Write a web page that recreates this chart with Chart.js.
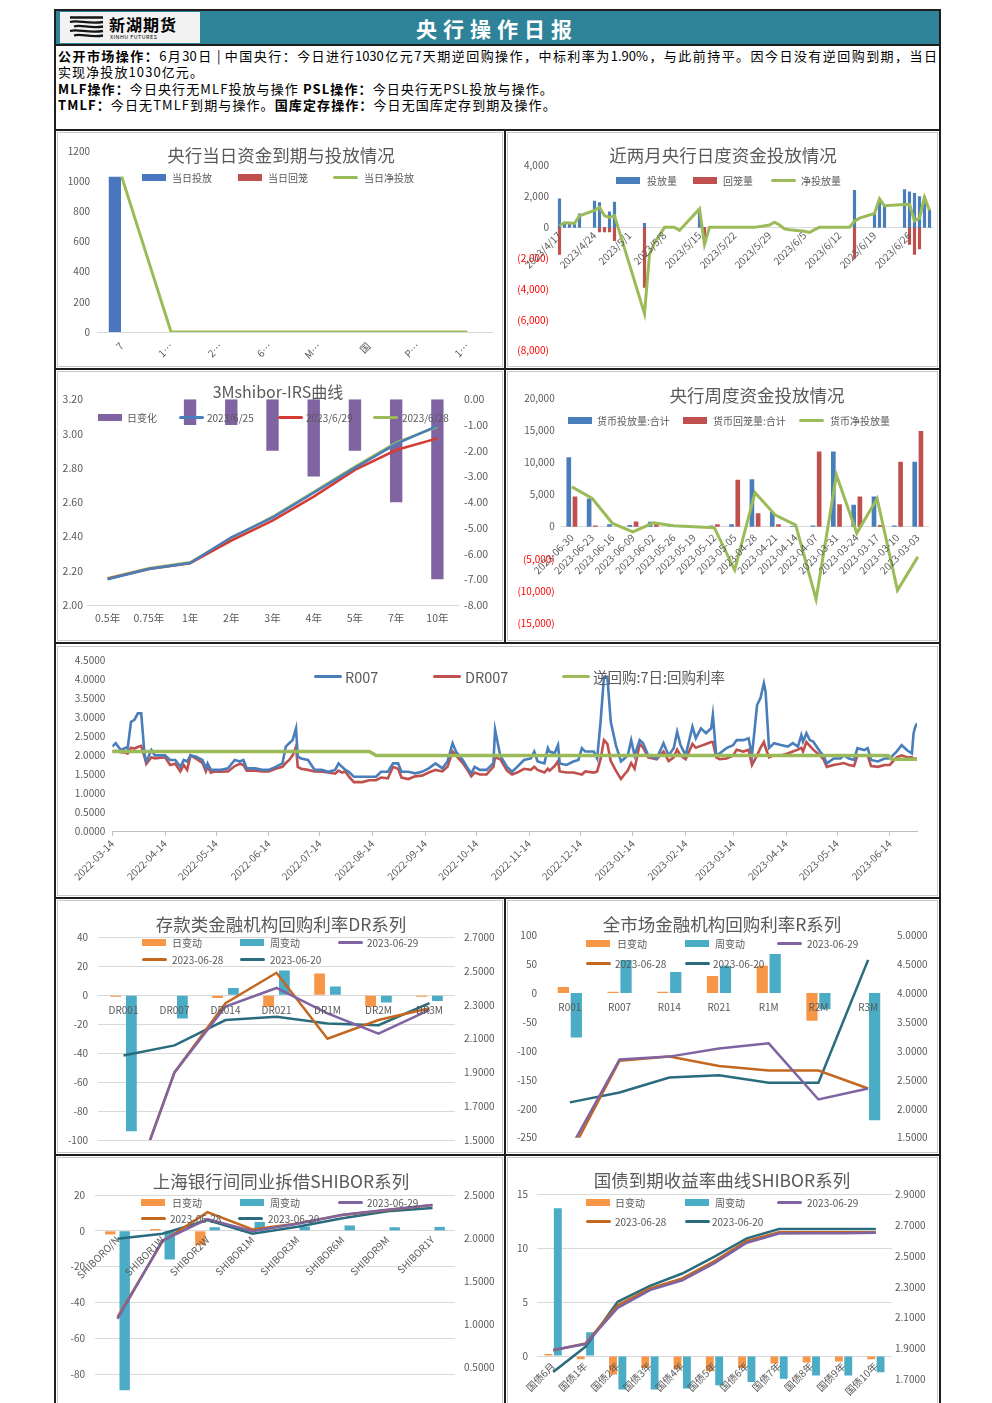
<!DOCTYPE html>
<html lang="zh-CN">
<head>
<meta charset="utf-8">
<title>央行操作日报</title>
<script src="https://cdn.jsdelivr.net/npm/chart.js@4.4.0/dist/chart.umd.min.js"></script>
<style>
  html, body { margin: 0; padding: 0; background: #fff; }
  body { width: 992px; height: 1403px; overflow: hidden; position: relative;
         font-family: "Noto Sans CJK SC", "Noto Sans", sans-serif; color: #000; }
  .abs { position: absolute; }
  .vline { position: absolute; width: 2px; background: #1e1e1e; }
  .hline { position: absolute; height: 2px; background: #1e1e1e; }
  .panel { position: absolute; border: 1px solid #c9c9c9; box-sizing: border-box; }
  canvas { position: absolute; }
  .title { position: absolute; transform: translate(-50%, -50%); white-space: nowrap; color: #595959; font-size: 17.5px; }
  .lg-text { position: absolute; white-space: nowrap; color: #595959; font-size: 10px; line-height: 12px; }
  .lg-sw { position: absolute; }
  #info { left: 58px; top: 48px; width: 879px; font-size: 13px; line-height: 16.4px; letter-spacing: 1.1px; }
  #info .justify { text-align: justify; text-align-last: justify; letter-spacing: 0; }
</style>
</head>
<body>

<!-- 表头 -->
<div class="abs" style="left:55px;top:10px;width:885px;height:35px;background:#2F8398;"></div>
<div class="abs" style="left:60px;top:12px;width:140px;height:31px;background:#f2f2f2;"></div>
<svg class="abs" style="left:69px;top:15px" width="36" height="25" viewBox="0 0 36 25">
  <g fill="none" stroke="#151515" stroke-width="2.3">
    <path d="M1 2.5 H34"/>
    <path d="M1 7 C9 4.5, 19 9.5, 34 7"/>
    <path d="M5 11.5 C12 9, 21 14, 34 11.5"/>
    <path d="M1 16 C9 13.5, 19 18.5, 34 16"/>
    <path d="M5 20.5 C12 18, 21 23, 34 20.5"/>
  </g>
</svg>
<div class="abs" style="left:109px;top:14px;font-size:16px;font-weight:700;letter-spacing:1px;line-height:20px;">新湖期货</div>
<div class="abs" style="left:110px;top:34px;font-size:6px;line-height:7px;letter-spacing:0.5px;transform:scale(0.9);transform-origin:left top;">XINHU FUTURES</div>
<div class="abs" style="left:497px;top:28px;transform:translate(-50%,-50%);color:#fff;font-size:21px;font-weight:700;letter-spacing:6px;white-space:nowrap;">央行操作日报</div>

<div id="info" class="abs">
  <div class="justify"><b>公开市场操作：</b>6月30日 | 中国央行：今日进行1030亿元7天期逆回购操作，中标利率为1.90%，与此前持平。因今日没有逆回购到期，当日</div>
  <div>实现净投放1030亿元。</div>
  <div><b>MLF操作：</b>今日央行无MLF投放与操作 <b>PSL操作：</b>今日央行无PSL投放与操作。</div>
  <div><b>TMLF：</b>今日无TMLF到期与操作。<b>国库定存操作：</b>今日无国库定存到期及操作。</div>
</div>

<!-- 框线 -->
<div class="vline" style="left:54px;top:9px;height:1394px;"></div>
<div class="vline" style="left:939px;top:9px;height:1394px;"></div>
<div class="hline" style="left:54px;top:9px;width:887px;"></div>
<div class="hline" style="left:54px;top:44px;width:887px;"></div>
<div class="hline" style="left:54px;top:129px;width:887px;"></div>
<div class="hline" style="left:54px;top:368px;width:887px;"></div>
<div class="hline" style="left:54px;top:642px;width:887px;"></div>
<div class="hline" style="left:54px;top:897px;width:887px;"></div>
<div class="hline" style="left:54px;top:1154px;width:887px;"></div>
<div class="vline" style="left:504px;top:129px;height:514px;"></div>
<div class="vline" style="left:504px;top:897px;height:510px;"></div>

<div class="panel" style="left:57px;top:132px;width:446px;height:235px;"></div>
<div class="panel" style="left:507px;top:132px;width:431px;height:235px;"></div>
<div class="panel" style="left:57px;top:371px;width:446px;height:270px;"></div>
<div class="panel" style="left:507px;top:371px;width:431px;height:270px;"></div>
<div class="panel" style="left:57px;top:646px;width:881px;height:250px;"></div>
<div class="panel" style="left:57px;top:900px;width:446px;height:253px;"></div>
<div class="panel" style="left:507px;top:900px;width:431px;height:253px;"></div>
<div class="panel" style="left:57px;top:1157px;width:446px;height:260px;"></div>
<div class="panel" style="left:507px;top:1157px;width:431px;height:260px;"></div>

<canvas id="c1"></canvas>
<canvas id="c2"></canvas>
<canvas id="c3"></canvas>
<canvas id="c4"></canvas>
<canvas id="c5"></canvas>
<canvas id="c6"></canvas>
<canvas id="c7"></canvas>
<canvas id="c8"></canvas>
<canvas id="c9"></canvas>

<script>
// ===== 数据 =====

// 央行当日资金到期与投放情况（亿元）
const dayCats = ['7', '1…', '2…', '6…', 'M…', '国', 'P…', '1…'];
const dayInject = [1030, 0, 0, 0, 0, 0, 0, 0];
const dayWithdraw = [0, 0, 0, 0, 0, 0, 0, 0];
const dayNet = [1030, 0, 0, 0, 0, 0, 0, 0];

// 近两月央行日度资金投放情况（横轴：距2023/4/17的天数）
const dailyTickDays = [0, 7, 14, 21, 28, 35, 42, 49, 56, 63, 70];
const dailyTickLabels = ['2023/4/17', '2023/4/24', '2023/5/1', '2023/5/8', '2023/5/15', '2023/5/22',
  '2023/5/29', '2023/6/5', '2023/6/12', '2023/6/19', '2023/6/26'];
const injectDays = [0, 1, 2, 3, 4, 7, 8, 10, 11, 17, 28, 59, 63, 64, 65, 69, 70, 71, 72, 73, 74];
const injectVals = [1850, 300, 280, 250, 870, 1700, 1600, 1000, 1640, 260, 1200, 2400, 900, 1850, 1400,
  2450, 2300, 2200, 2000, 2000, 1100];
const withdrawDays = [0, 8, 9, 10, 11, 17, 29, 59, 70, 71, 72];
const withdrawVals = [-1750, -300, -300, -300, -870, -3900, -1100, -2000, -1100, -1750, -1400];
const netDays = [0, 1, 2, 3, 4, 7, 8, 9, 10, 11, 17, 18, 19, 21, 22, 23, 24, 25, 28, 29, 30, 31, 32, 35, 36,
  37, 38, 39, 42, 43, 44, 45, 46, 49, 50, 51, 52, 53, 56, 57, 58, 59, 60, 63, 64, 65, 69, 70, 71, 72, 73, 74];
const netVals = [100, 300, 280, 250, 750, 1100, 1300, 760, 650, 760, -5600, -1750, -1000, 0, 0, 0, -200, 150,
  1200, -1100, 0, 0, 0, 0, 0, 0, 0, 0, 150, 330, 150, -100, -150, -250, -330, -150, 0, 0, 0, 0, 0, 400, 600,
  900, 1850, 1400, 1480, 1500, 430, 600, 1950, 1100];

// 3Mshibor-IRS曲线
const irsTenors = ['0.5年', '0.75年', '1年', '2年', '3年', '4年', '5年', '7年', '10年'];
const irsChange = [0, 0, -1, -1, -2, -3, -2, -4, -7];
const irs0625 = [2.150, 2.210, 2.245, 2.395, 2.510, 2.655, 2.800, 2.940, 3.045];
const irs0629 = [2.153, 2.210, 2.243, 2.375, 2.492, 2.632, 2.788, 2.904, 2.972];
const irs0628 = [2.156, 2.214, 2.249, 2.389, 2.515, 2.661, 2.807, 2.947, 3.040];

// 央行周度资金投放情况（亿元）
const weekCats = ['2023-06-30', '2023-06-23', '2023-06-16', '2023-06-09', '2023-06-02', '2023-05-26',
  '2023-05-19', '2023-05-12', '2023-05-05', '2023-04-28', '2023-04-21', '2023-04-14', '2023-04-07',
  '2023-03-31', '2023-03-24', '2023-03-17', '2023-03-10', '2023-03-03'];
const weekInject = [10800, 4400, 400, 250, 780, 100, 100, 200, 400, 7400, 2300, 100, 200, 11700, 3400, 4700, 200, 10100];
const weekWithdraw = [4700, 200, 0, 800, 400, 0, 0, 400, 7300, 2100, 400, 0, 11700, 3500, 4700, 250, 10100, 14900];
const weekNet = [6200, 4400, 500, -800, 600, 150, 0, -150, -6750, 5300, 1800, 250, -11300, 8050, -1000, 4400, -9900, -4700];

// R007 / DR007 / 逆回购7日利率（横轴：距2022-03-14的天数）
const monthTickDays = [0, 31, 61, 92, 122, 153, 184, 214, 245, 275, 306, 337, 365, 396, 426, 457];
const monthTickLabels = ['2022-03-14', '2022-04-14', '2022-05-14', '2022-06-14', '2022-07-14', '2022-08-14',
  '2022-09-14', '2022-10-14', '2022-11-14', '2022-12-14', '2023-01-14', '2023-02-14', '2023-03-14',
  '2023-04-14', '2023-05-14', '2023-06-14'];
const repoDays = [0, 2, 5, 8, 9, 11, 13, 15, 17, 19, 20, 23, 25, 31, 34, 37, 40, 42, 44, 46, 49, 53, 55, 56, 58,
  60, 64, 68, 72, 75, 77, 79, 84, 88, 92, 96, 100, 102, 104, 106, 108, 109, 111, 115, 119, 123, 127, 131, 133,
  135, 137, 139, 142, 147, 151, 155, 158, 162, 165, 168, 170, 174, 178, 182, 186, 190, 194, 197, 200, 202, 206,
  209, 211, 213, 216, 220, 223, 224, 225, 228, 232, 235, 238, 242, 246, 248, 250, 254, 256, 257, 260, 262, 263,
  267, 271, 274, 276, 278, 283, 285, 287, 289, 291, 293, 296, 299, 301, 303, 305, 307, 310, 312, 315, 320, 324,
  327, 330, 332, 334, 337, 341, 343, 346, 349, 352, 353, 355, 357, 361, 365, 367, 371, 374, 376, 379, 381, 383,
  384, 386, 389, 393, 397, 400, 403, 405, 406, 408, 410, 412, 416, 418, 420, 424, 428, 430, 433, 436, 438, 442,
  444, 446, 450, 454, 457, 461, 464, 467, 470, 471, 472, 473];
const r007 = [2.23, 2.32, 2.14, 2.20, 2.18, 2.88, 2.93, 3.10, 3.10, 2.00, 1.84, 2.14, 2.00, 2.00, 1.88, 1.88,
  1.70, 1.88, 1.84, 2.00, 1.97, 1.88, 1.66, 1.79, 1.62, 1.62, 1.62, 1.66, 1.88, 1.84, 1.88, 1.66, 1.66, 1.62,
  1.62, 1.70, 1.79, 2.23, 2.32, 2.40, 2.71, 1.97, 1.92, 1.88, 1.62, 1.62, 1.57, 1.62, 1.79, 1.70, 1.62, 1.57,
  1.44, 1.44, 1.44, 1.44, 1.57, 1.57, 1.79, 1.79, 1.57, 1.57, 1.53, 1.57, 1.66, 1.79, 1.66, 1.84, 2.32, 2.10,
  1.88, 1.66, 1.53, 1.70, 1.62, 1.62, 1.75, 1.80, 2.67, 2.00, 1.70, 1.57, 1.70, 1.88, 1.92, 2.10, 1.84, 1.79,
  2.19, 2.10, 2.06, 2.27, 1.79, 1.75, 1.84, 1.88, 2.19, 2.10, 2.10, 1.92, 2.88, 4.06, 4.06, 2.88, 2.27, 1.84,
  1.92, 2.00, 2.40, 2.00, 2.40, 2.32, 2.00, 1.92, 2.32, 2.00, 2.19, 2.62, 2.27, 2.00, 2.75, 2.45, 2.71, 2.58,
  2.71, 3.06, 2.00, 2.05, 2.19, 2.27, 2.40, 2.40, 2.45, 2.00, 3.32, 3.50, 3.89, 3.67, 2.19, 2.32, 2.27, 2.23,
  2.32, 2.23, 2.53, 2.36, 2.58, 2.40, 2.36, 2.10, 2.00, 1.79, 1.92, 1.92, 2.00, 1.92, 1.88, 2.19, 2.14, 2.19,
  1.88, 1.84, 1.92, 1.92, 2.10, 2.27, 2.14, 2.05, 2.58, 2.75, 2.84];
const dr007 = [2.10, 2.12, 2.08, 2.07, 2.05, 2.20, 2.18, 2.22, 2.25, 1.95, 1.78, 1.95, 1.92, 1.95, 1.75, 1.78,
  1.58, 1.75, 1.62, 2.00, 1.92, 1.80, 1.58, 1.70, 1.55, 1.58, 1.57, 1.58, 1.72, 1.78, 1.75, 1.60, 1.60, 1.58,
  1.58, 1.65, 1.70, 1.80, 1.88, 2.00, 2.23, 1.70, 1.65, 1.62, 1.58, 1.57, 1.55, 1.52, 1.60, 1.55, 1.58, 1.45,
  1.30, 1.30, 1.35, 1.35, 1.42, 1.40, 1.70, 1.65, 1.42, 1.38, 1.45, 1.47, 1.55, 1.62, 1.58, 1.70, 2.10, 2.00,
  1.80, 1.60, 1.45, 1.55, 1.50, 1.50, 1.65, 1.70, 1.95, 1.90, 1.60, 1.50, 1.55, 1.65, 1.62, 1.70, 1.62, 1.55,
  1.65, 1.60, 1.72, 1.85, 1.58, 1.55, 1.55, 1.52, 1.50, 1.58, 1.55, 1.58, 1.90, 2.40, 2.30, 1.85, 1.60, 1.38,
  1.50, 1.60, 1.80, 1.65, 2.30, 2.20, 1.95, 1.90, 2.10, 1.85, 1.95, 2.15, 2.00, 1.90, 2.30, 2.20, 2.25, 2.30,
  2.35, 2.35, 1.95, 1.90, 1.92, 2.00, 2.15, 2.10, 2.15, 1.75, 2.00, 2.20, 2.35, 2.20, 1.95, 2.00, 2.00, 2.05,
  2.10, 2.15, 2.20, 2.10, 2.35, 2.25, 2.15, 2.00, 1.90, 1.70, 1.75, 1.78, 1.80, 1.75, 1.72, 2.00, 2.00, 2.00,
  1.72, 1.70, 1.75, 1.75, 1.95, 2.00, 1.95, 1.95, 1.90, 1.92, 1.90];
const revRepoDays = [0, 151, 155, 456, 458, 473];
const revRepoRate = [2.10, 2.10, 2.00, 2.00, 1.90, 1.90];

// 存款类金融机构回购利率DR系列
const drCats = ['DR001', 'DR007', 'DR014', 'DR021', 'DR1M', 'DR2M', 'DR3M'];
const drDay = [-1, 0, -2, -8, 15, -8, -1];
const drWeek = [-94, -16, 5, 17, 6, -5, -4];
const dr0629 = [1.06, 1.90, 2.29, 2.40, 2.25, 2.13, 2.27];
const dr0628 = [1.07, 1.90, 2.31, 2.49, 2.10, 2.21, 2.28];
const dr0620 = [2.00, 2.06, 2.21, 2.23, 2.19, 2.18, 2.31];

// 全市场金融机构回购利率R系列
const rCats = ['R001', 'R007', 'R014', 'R021', 'R1M', 'R2M', 'R3M'];
const rDay = [10, 2, 2, 29, 47, -48, 0];
const rWeek = [-77, 57, 36, 47, 67, -28, -220];
const r0629 = [1.30, 2.85, 2.90, 3.04, 3.13, 2.16, 2.35];
const r0628 = [1.20, 2.83, 2.90, 2.74, 2.66, 2.66, 2.35];
const r0620 = [2.11, 2.28, 2.54, 2.58, 2.45, 2.45, 4.57];

// 上海银行间同业拆借SHIBOR系列
const shCats = ['SHIBORO/N', 'SHIBOR1W', 'SHIBOR2W', 'SHIBOR1M', 'SHIBOR3M', 'SHIBOR6M', 'SHIBOR9M', 'SHIBOR1Y'];
const shDay = [-2, 1, -8, -0.5, 0, 0.3, 0.3, 0.3];
const shWeek = [-89, -16, 2, 5, 2.4, 3, 2, 2.2];
const sh0629 = [1.06, 1.97, 2.22, 2.08, 2.165, 2.27, 2.33, 2.385];
const sh0628 = [1.08, 1.96, 2.30, 2.10, 2.17, 2.267, 2.325, 2.383];
const sh0620 = [1.99, 2.05, 2.21, 2.05, 2.13, 2.23, 2.31, 2.35];

// 国债到期收益率曲线
const cgbCats = ['国债6月', '国债1年', '国债2年', '国债3年', '国债4年', '国债5年', '国债6年', '国债7年', '国债8年', '国债9年', '国债10年'];
const cgbDay = [0.2, -0.3, -1.7, -1.1, -1.2, -1.4, -1.1, -0.7, -0.6, -0.5, -0.3];
const cgbWeek = [13.7, 2.2, -3.1, -3.1, -3.0, -2.7, -2.4, -2.1, -1.8, -1.8, -1.5];
const cgb0629 = [1.890, 1.928, 2.163, 2.278, 2.342, 2.453, 2.586, 2.646, 2.647, 2.648, 2.650];
const cgb0628 = [1.888, 1.931, 2.180, 2.289, 2.354, 2.467, 2.597, 2.653, 2.653, 2.653, 2.653];
const cgb0620 = [1.747, 1.910, 2.202, 2.306, 2.386, 2.495, 2.614, 2.675, 2.675, 2.675, 2.675];

// ===== 颜色 =====
const BLUE = '#4A7EBB', RED = '#C0504D', GREEN = '#9BBB59', PURPLE = '#8064A2';
const ORANGE = '#F79646', AQUA = '#4BACC6', BROWN = '#C4671F', TEAL = '#2A6C7D';
const GRID = '#d9d9d9';

Chart.defaults.font.family = '"Noto Sans CJK SC", "Noto Sans", sans-serif';
Chart.defaults.font.size = 10;
Chart.defaults.color = '#595959';
Chart.defaults.animation = false;
Chart.defaults.responsive = false;
Chart.defaults.plugins.legend.display = false;
Chart.defaults.plugins.tooltip.enabled = false;

// ===== 工具函数 =====
function place(id, x, y, w, h) {
  const c = document.getElementById(id);
  c.style.left = x + 'px';
  c.style.top = y + 'px';
  c.width = w;
  c.height = h;
  return c;
}
function tickValues(min, max, step) {
  const out = [];
  const n = Math.round((max - min) / step);
  for (let i = 0; i <= n; i++) out.push(Math.round((min + i * step) * 10000) / 10000);
  return out;
}
function paren(v) {
  const s = Math.abs(v).toLocaleString('en-US');
  return v < 0 ? '(' + s + ')' : s;
}
function yAxis(o) {
  return {
    type: 'linear',
    position: o.pos || 'left',
    min: o.min,
    max: o.max,
    afterBuildTicks: (s) => { s.ticks = tickValues(o.min, o.max, o.step).map(v => ({ value: v })); },
    afterFit: (s) => { s.width = o.width; },
    grid: { display: !!o.grid, color: GRID, drawTicks: false },
    border: { display: false },
    ticks: {
      padding: o.pad,
      autoSkip: false,
      callback: o.fmt || ((v) => String(v)),
      color: o.color || '#595959',
      font: { size: o.size || 10 }
    }
  };
}
function catAxis(o) {
  return {
    type: 'category',
    offset: true,
    position: o.pos || 'bottom',
    grid: { display: false, drawTicks: false },
    border: { display: !!o.border, color: GRID },
    ticks: {
      padding: o.pad,
      autoSkip: false,
      minRotation: o.rot || 0,
      maxRotation: o.rot || 0,
      z: 1,
      font: { size: o.size || 10 }
    },
    afterFit: (s) => { s.height = o.height; }
  };
}
function addTitle(text, cx, cy, size) {
  const el = document.createElement('div');
  el.className = 'title';
  el.textContent = text;
  el.style.left = cx + 'px';
  el.style.top = cy + 'px';
  if (size) el.style.fontSize = size + 'px';
  document.body.appendChild(el);
}
// 图例：[色块x, 文字x, 中心y, 类型, 颜色, 文字]
function addLegend(items, fontSize, swW) {
  items.forEach(([sx, tx, cy, kind, color, text]) => {
    const sw = document.createElement('div');
    sw.className = 'lg-sw';
    const h = kind === 'box' ? 7 : 3;
    const w = swW || (kind === 'box' ? 24 : 25);
    sw.style.cssText = `left:${sx}px;top:${cy - h / 2}px;width:${w}px;height:${h}px;background:${color};` +
      (kind === 'line' ? 'border-radius:1.5px;' : '');
    document.body.appendChild(sw);
    const t = document.createElement('div');
    t.className = 'lg-text';
    t.textContent = text;
    const fs = fontSize || 10;
    t.style.fontSize = fs + 'px';
    t.style.lineHeight = Math.round(fs * 1.3) + 'px';
    t.style.left = tx + 'px';
    t.style.top = (cy - fs * 0.65) + 'px';
    document.body.appendChild(t);
  });
}
const lineDs = (data, color, yAxisID, width) => ({
  type: 'line', data, yAxisID, borderColor: color, backgroundColor: color,
  borderWidth: width || 2.5, pointRadius: 0, tension: 0, order: 1
});
const barDs = (data, color, yAxisID, cat, bar) => ({
  type: 'bar', data, yAxisID, backgroundColor: color,
  categoryPercentage: cat, barPercentage: bar, order: 2
});

// ===== 图1 央行当日资金到期与投放情况 =====
new Chart(place('c1', 58, 133, 445, 234), {
  type: 'bar',
  data: {
    labels: dayCats,
    datasets: [
      barDs(dayInject, '#4A76C0', 'y', 0.55, 0.9),
      barDs(dayWithdraw, RED, 'y', 0.55, 0.9),
      lineDs(dayNet, GREEN, 'y', 3)
    ]
  },
  options: {
    layout: { padding: { left: 0, right: 11, top: 18, bottom: 0 } },
    scales: {
      x: catAxis({ pad: 8, rot: 45, height: 35, border: true }),
      y: yAxis({ min: 0, max: 1200, step: 200, width: 39, pad: 7 })
    }
  }
});
addTitle('央行当日资金到期与投放情况', 281, 154);
addLegend([
  [142, 172, 177, 'box', '#4A76C0', '当日投放'],
  [238, 268, 177, 'box', RED, '当日回笼'],
  [333, 364, 177, 'line', GREEN, '当日净投放']
]);

// ===== 图2 近两月央行日度资金投放情况 =====
new Chart(place('c2', 508, 133, 430, 240), {
  type: 'bar',
  data: {
    datasets: [
      { type: 'bar', data: injectDays.map((d, i) => ({ x: d, y: injectVals[i] })), backgroundColor: BLUE,
        barThickness: 2.5, grouped: false, order: 2 },
      { type: 'bar', data: withdrawDays.map((d, i) => ({ x: d, y: withdrawVals[i] })), backgroundColor: RED,
        barThickness: 2.5, grouped: false, order: 2 },
      { type: 'line', data: netDays.map((d, i) => ({ x: d, y: netVals[i] })), borderColor: GREEN,
        borderWidth: 3, pointRadius: 0, order: 1 }
    ]
  },
  options: {
    layout: { padding: { left: 0, right: 6, top: 32.7, bottom: 22.3 } },
    scales: {
      x: {
        type: 'linear', position: { y: 0 }, min: -0.5, max: 74.5, offset: false,
        afterBuildTicks: (s) => { s.ticks = dailyTickDays.map(v => ({ value: v })); },
        afterFit: (s) => { s.height = 0; },
        grid: { display: false, drawTicks: false },
        border: { display: true, color: GRID },
        ticks: { padding: 2, autoSkip: false, minRotation: 45, maxRotation: 45, z: 1,
          callback: (v, i) => dailyTickLabels[i] }
      },
      y: yAxis({ min: -8000, max: 4000, step: 2000, width: 49, pad: 8, fmt: paren,
        color: (ctx) => (ctx.tick && ctx.tick.value < 0 ? '#FF0000' : '#595959') })
    }
  }
});
addTitle('近两月央行日度资金投放情况', 723, 154);
addLegend([
  [616, 647, 180, 'box', BLUE, '投放量'],
  [693, 723, 180, 'box', RED, '回笼量'],
  [771, 801, 180, 'line', GREEN, '净投放量']
]);

// ===== 图3 3Mshibor-IRS曲线 =====
new Chart(place('c3', 58, 372, 445, 269), {
  type: 'bar',
  data: {
    labels: irsTenors,
    datasets: [
      barDs(irsChange, PURPLE, 'yR', 0.3, 1),
      lineDs(irs0625, BLUE, 'yL', 2.5),
      lineDs(irs0629, '#D63B33', 'yL', 2.5),
      lineDs(irs0628, GREEN, 'yL', 2.5)
    ]
  },
  options: {
    layout: { padding: { left: 0, right: 0, top: 27.3, bottom: 0 } },
    scales: {
      x: catAxis({ pad: 7, height: 36, border: true, size: 10.5 }),
      yL: yAxis({ min: 2.0, max: 3.2, step: 0.2, width: 29, pad: 4, size: 10.5, fmt: (v) => v.toFixed(2) }),
      yR: yAxis({ pos: 'right', min: -8, max: 0, step: 1, width: 45, pad: 6, size: 10.5, fmt: (v) => v.toFixed(2) })
    }
  }
});
addTitle('3Mshibor-IRS曲线', 278, 391, 16);
addLegend([
  [98, 127, 417, 'box', PURPLE, '日变化'],
  [179, 207, 417, 'line', BLUE, '2023/6/25'],
  [278, 306, 417, 'line', '#D63B33', '2023/6/29'],
  [373, 402, 417, 'line', GREEN, '2023/6/28']
]);

// ===== 图4 央行周度资金投放情况 =====
new Chart(place('c4', 508, 372, 430, 272), {
  type: 'bar',
  data: {
    labels: weekCats,
    datasets: [
      barDs(weekInject, BLUE, 'y', 0.61, 0.75),
      barDs(weekWithdraw, RED, 'y', 0.61, 0.75),
      lineDs(weekNet, GREEN, 'y', 3)
    ]
  },
  options: {
    layout: { padding: { left: 0, right: 10, top: 26.3, bottom: 21 } },
    scales: {
      x: Object.assign(catAxis({ pad: 5, rot: 45, height: 0, border: true }), { position: { y: 0 } }),
      y: yAxis({ min: -15000, max: 20000, step: 5000, width: 53.7, pad: 7, fmt: paren,
        color: (ctx) => (ctx.tick && ctx.tick.value < 0 ? '#FF0000' : '#595959') })
    }
  }
});
addTitle('央行周度资金投放情况', 757, 394);
addLegend([
  [568, 597, 420, 'box', BLUE, '货币投放量:合计'],
  [683, 713, 420, 'box', RED, '货币回笼量:合计'],
  [799, 830, 420, 'line', GREEN, '货币净投放量']
]);

// ===== 图5 R007 / DR007 / 逆回购利率 =====
new Chart(place('c5', 58, 647, 880, 249), {
  type: 'line',
  data: {
    datasets: [
      { data: repoDays.map((d, i) => ({ x: d, y: r007[i] })), borderColor: BLUE, borderWidth: 2.6, pointRadius: 0, order: 1 },
      { data: repoDays.map((d, i) => ({ x: d, y: dr007[i] })), borderColor: RED, borderWidth: 2.6, pointRadius: 0, order: 2 },
      { data: revRepoDays.map((d, i) => ({ x: d, y: revRepoRate[i] })), borderColor: GREEN, borderWidth: 3.5, pointRadius: 0, order: 0 }
    ]
  },
  options: {
    layout: { padding: { left: 0, right: 21, top: 13, bottom: 0 } },
    scales: {
      x: {
        type: 'linear', min: 0, max: 473,
        afterBuildTicks: (s) => { s.ticks = monthTickDays.map(v => ({ value: v })); },
        afterFit: (s) => { s.height = 64.3; },
        grid: { display: true, drawOnChartArea: false, drawTicks: true, tickLength: 4, color: '#bfbfbf' },
        border: { display: true, color: '#bfbfbf' },
        ticks: { padding: 2, autoSkip: false, minRotation: 45, maxRotation: 45,
          callback: (v, i) => monthTickLabels[i] }
      },
      y: yAxis({ min: 0, max: 4.5, step: 0.5, width: 54.3, pad: 7, fmt: (v) => v.toFixed(4) })
    }
  }
});
addLegend([
  [314, 345, 676, 'line', BLUE, 'R007'],
  [433, 465, 676, 'line', RED, 'DR007'],
  [562, 593, 676, 'line', GREEN, '逆回购:7日:回购利率']
], 14.5, 28);

// ===== 图6 存款类金融机构回购利率DR系列 =====
new Chart(place('c6', 58, 901, 445, 260), {
  type: 'bar',
  data: {
    labels: drCats,
    datasets: [
      barDs(drDay, ORANGE, 'yL', 0.62, 0.68),
      barDs(drWeek, AQUA, 'yL', 0.62, 0.68),
      lineDs(dr0629, PURPLE, 'yR'),
      lineDs(dr0628, BROWN, 'yR'),
      lineDs(dr0620, TEAL, 'yR')
    ]
  },
  options: {
    layout: { padding: { left: 0, right: 0, top: 36.3, bottom: 21 } },
    scales: {
      x: Object.assign(catAxis({ pad: 9, height: 0 }), { position: { yL: 0 } }),
      yL: yAxis({ min: -100, max: 40, step: 20, width: 40, pad: 10, grid: true }),
      yR: yAxis({ pos: 'right', min: 1.5, max: 2.7, step: 0.2, width: 48, pad: 9, fmt: (v) => v.toFixed(4) })
    }
  }
});
addTitle('存款类金融机构回购利率DR系列', 281, 923);
addLegend([
  [142, 172, 942, 'box', ORANGE, '日变动'],
  [240, 270, 942, 'box', AQUA, '周变动'],
  [338, 367, 942, 'line', PURPLE, '2023-06-29'],
  [142, 172, 959, 'line', BROWN, '2023-06-28'],
  [240, 270, 959, 'line', TEAL, '2023-06-20']
]);

// ===== 图7 全市场金融机构回购利率R系列 =====
new Chart(place('c7', 508, 901, 430, 260), {
  type: 'bar',
  data: {
    labels: rCats,
    datasets: [
      barDs(rDay, ORANGE, 'yL', 0.52, 0.87),
      barDs(rWeek, AQUA, 'yL', 0.52, 0.87),
      lineDs(r0629, PURPLE, 'yR'),
      lineDs(r0628, BROWN, 'yR'),
      lineDs(r0620, TEAL, 'yR')
    ]
  },
  options: {
    layout: { padding: { left: 0, right: 0, top: 34, bottom: 23.3 } },
    scales: {
      x: Object.assign(catAxis({ pad: 8, height: 0 }), { position: { yL: 0 } }),
      yL: yAxis({ min: -250, max: 100, step: 50, width: 37, pad: 8 }),
      yR: yAxis({ pos: 'right', min: 1.5, max: 5.0, step: 0.5, width: 45, pad: 4, fmt: (v) => v.toFixed(4) })
    }
  }
});
addTitle('全市场金融机构回购利率R系列', 722, 923);
addLegend([
  [586, 617, 943, 'box', ORANGE, '日变动'],
  [685, 715, 943, 'box', AQUA, '周变动'],
  [777, 807, 943, 'line', PURPLE, '2023-06-29'],
  [586, 615, 963, 'line', BROWN, '2023-06-28'],
  [685, 713, 963, 'line', TEAL, '2023-06-20']
]);

// ===== 图8 上海银行间同业拆借SHIBOR系列 =====
new Chart(place('c8', 58, 1158, 445, 274), {
  type: 'bar',
  data: {
    labels: shCats,
    datasets: [
      barDs(shDay, ORANGE, 'yL', 0.64, 0.72),
      barDs(shWeek, AQUA, 'yL', 0.64, 0.72),
      lineDs(sh0629, PURPLE, 'yR'),
      lineDs(sh0628, BROWN, 'yR'),
      lineDs(sh0620, TEAL, 'yR')
    ]
  },
  options: {
    layout: { padding: { left: 0, right: 0, top: 37, bottom: 22 } },
    scales: {
      x: Object.assign(catAxis({ pad: 3, rot: 45, height: 0 }), { position: { yL: 0 } }),
      yL: yAxis({ min: -100, max: 20, step: 20, width: 37, pad: 10, grid: true }),
      yR: yAxis({ pos: 'right', min: 0, max: 2.5, step: 0.5, width: 48, pad: 9, fmt: (v) => v.toFixed(4) })
    }
  }
});
addTitle('上海银行间同业拆借SHIBOR系列', 281, 1180);
addLegend([
  [141, 172, 1202, 'box', ORANGE, '日变动'],
  [240, 270, 1202, 'box', AQUA, '周变动'],
  [338, 367, 1202, 'line', PURPLE, '2023-06-29'],
  [141, 170, 1218, 'line', BROWN, '2023-06-28'],
  [238, 268, 1218, 'line', TEAL, '2023-06-20']
]);

// ===== 图9 国债到期收益率曲线 =====
new Chart(place('c9', 508, 1158, 430, 274), {
  type: 'bar',
  data: {
    labels: cgbCats,
    datasets: [
      barDs(cgbDay, ORANGE, 'yL', 0.58, 0.84),
      barDs(cgbWeek, AQUA, 'yL', 0.58, 0.84),
      lineDs(cgb0629, PURPLE, 'yR'),
      lineDs(cgb0628, BROWN, 'yR'),
      lineDs(cgb0620, TEAL, 'yR')
    ]
  },
  options: {
    layout: { padding: { left: 0, right: 0, top: 36.3, bottom: 22 } },
    scales: {
      x: Object.assign(catAxis({ pad: 4, rot: 45, height: 0 }), { position: { yL: 0 } }),
      yL: yAxis({ min: -5, max: 15, step: 5, width: 29, pad: 9, grid: true }),
      yR: yAxis({ pos: 'right', min: 1.5, max: 2.9, step: 0.2, width: 46, pad: 3, fmt: (v) => v.toFixed(4) })
    }
  }
});
addTitle('国债到期收益率曲线SHIBOR系列', 722, 1179);
addLegend([
  [586, 615, 1202, 'box', ORANGE, '日变动'],
  [685, 715, 1202, 'box', AQUA, '周变动'],
  [777, 807, 1202, 'line', PURPLE, '2023-06-29'],
  [586, 615, 1221, 'line', BROWN, '2023-06-28'],
  [685, 712, 1221, 'line', TEAL, '2023-06-20']
]);
</script>
</body>
</html>
